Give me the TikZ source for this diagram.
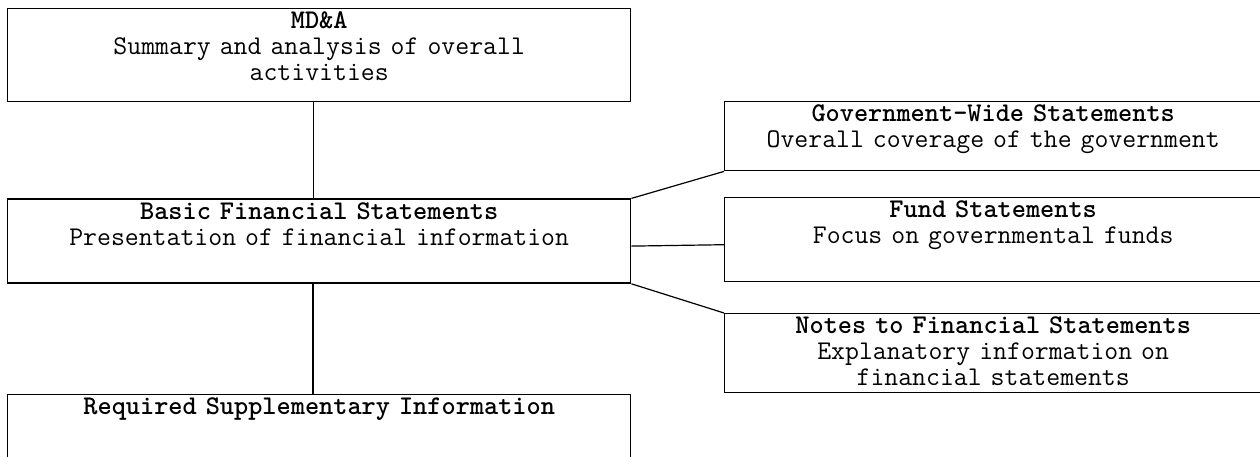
\documentclass[tikz,border=0pt]{standalone}
\usepackage{tikz}
\usetikzlibrary{positioning}

\begin{document}
\begin{tikzpicture}[
		x=0.5pt, y=-0.5pt,
		font=\fontsize{13.5}{13}\selectfont\ttfamily,
		box/.style={draw, line width=0.7pt, inner sep=0pt, align=center, text height=10pt},
		lbox/.style={box, text width=311.5pt},
		rbox/.style={box, text width=268.5pt},
		link/.style={line width=0.6pt}
		]
		\useasboundingbox (0,0) rectangle (1260,456);
		% left column
		\node[lbox, anchor=north west, text depth=36.5pt] (mdna) at (7,8)
		{\textbf{MD\&A}\\ Summary and analysis of overall\\ activities};
		\node[lbox, below=48pt of mdna.south west, anchor=north west, text depth=32pt] (bfs)
		{\textbf{Basic Financial Statements}\\ Presentation of financial information};
		\node[lbox, below=55pt of bfs.south west, anchor=north west, text depth=30pt] (rsi)
		{\textbf{Required Supplementary Information}};
		% right column
		\node[rbox, anchor=north west, text depth=24.5pt] (gov) at (724,101)
		{\textbf{Government-Wide Statements}\\ Overall coverage of the government};
		\node[rbox, anchor=north west, text depth=32pt] (fund) at (724,197)
		{\textbf{Fund Statements}\\ Focus on governmental funds};
		\node[rbox, anchor=north west, text depth=29.5pt] (notes) at (724,313)
		{\textbf{Notes to Financial Statements}\\ Explanatory information on\\ financial statements};
		% links
		\draw[link, line width=0.5pt] ([xshift=-3pt]mdna.south) -- ([xshift=-3pt]bfs.north);
		\draw[link, line width=0.8pt] ([xshift=-3pt]bfs.south) -- ([xshift=-3pt]rsi.north);
		\draw[link] (bfs.north east) -- (gov.south west);
		\draw[link] ([yshift=-2.5pt]bfs.east) -- ([yshift=-2.5pt]fund.west);
		\draw[link] (bfs.south east) -- (notes.north west);
	\end{tikzpicture}
\end{document}
